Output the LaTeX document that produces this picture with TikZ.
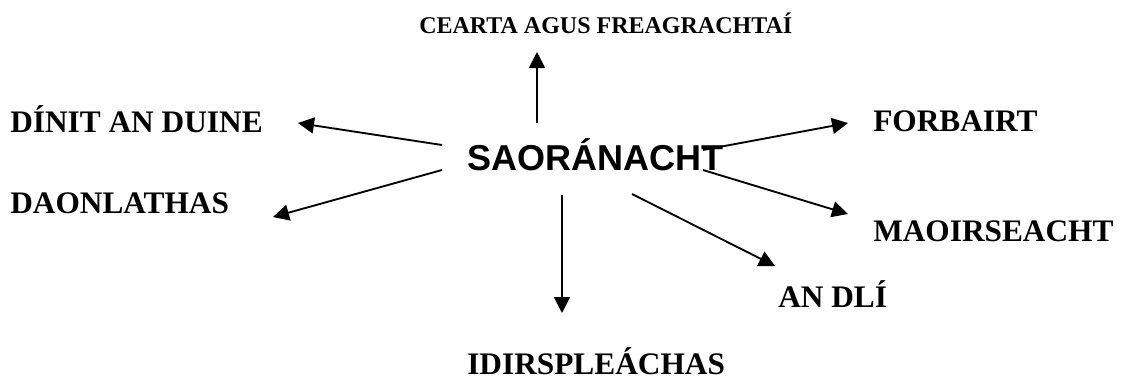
\documentclass[tikz,border=0pt]{standalone}
\usepackage{fontspec}
\setmainfont{Liberation Serif}
\newfontfamily\arialfont{Liberation Sans}
\usetikzlibrary{arrows.meta}
\tikzset{
  topic/.style={anchor=base west, inner sep=0pt, font=\fontsize{23.5}{26}\selectfont\bfseries},
  hub/.style={anchor=base west, inner sep=0pt, font=\arialfont\fontsize{27}{30}\selectfont\bfseries},
  link/.style={line width=1.4pt, -{Triangle[length=12pt,width=12pt]}}
}
\begin{document}
\begin{tikzpicture}[x=0.75pt,y=-0.75pt]
\useasboundingbox (0,0) rectangle (1122,379);

\node [hub] (sao) at (467,170) {SAORÁNACHT};

\node [topic, font=\fontsize{18}{21}\selectfont\bfseries] (cearta) at (419,33) {CEARTA AGUS FREAGRACHTAÍ};
\node [topic] (dinit) at (10,132) {DÍNIT AN DUINE};
\node [topic] (daon) at (10,213) {DAONLATHAS};
\node [topic] (forb) at (873,131) {FORBAIRT};
\node [topic] (maoir) at (873,241) {MAOIRSEACHT};
\node [topic] (andli) at (778,307) {AN DLÍ};
\node [topic] (idir) at (467,374) {IDIRSPLEÁCHAS};

\coordinate (s1) at (537,123); \coordinate (t1) at (537,52);
\coordinate (s2) at (442,145); \coordinate (t2) at (298,123);
\coordinate (s3) at (442,170); \coordinate (t3) at (273,217);
\coordinate (s4) at (703,150); \coordinate (t4) at (848,123);
\coordinate (s5) at (703,170); \coordinate (t5) at (848,214);
\coordinate (s6) at (632,194); \coordinate (t6) at (775,266);
\coordinate (s7) at (562,195); \coordinate (t7) at (562,313);

\foreach \i in {1,...,7}
  \draw [link] (s\i) -- (t\i);
\end{tikzpicture}
\end{document}
